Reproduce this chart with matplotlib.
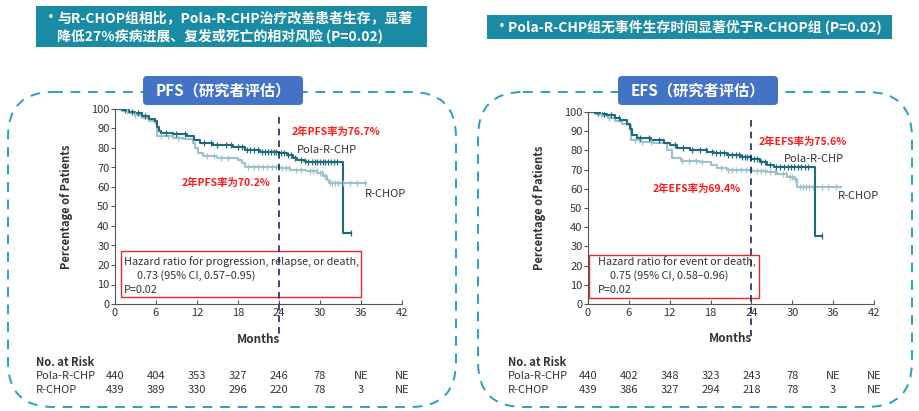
import numpy as np
import matplotlib
matplotlib.use('Agg')
import matplotlib.pyplot as plt
from matplotlib.patches import FancyBboxPatch, Rectangle
from matplotlib import transforms

plt.rcParams['font.family'] = ['Noto Sans CJK SC', 'DejaVu Sans']

# ---- data ----
months = [0, 6, 12, 18, 24, 30, 36, 42]
pct_ticks = [0, 10, 20, 30, 40, 50, 60, 70, 80, 90, 100]

# PFS, step curves (time in months, % event free)
pfs_pola_t = [0, 1, 2, 3, 4, 5, 5.8, 6.1, 6.4, 6.8, 8.5, 10.5, 11.5, 12.4, 14.4, 17.3, 19, 21.2, 24, 25.1, 26.1, 26.6, 27.6, 28, 33.4, 34.6]
pfs_pola_s = [100, 99.3, 98.6, 97.8, 96.5, 94.8, 93.7, 91, 88.5, 87.5, 87, 86, 84.3, 82.5, 81.7, 80.3, 79, 78.1, 77.4, 76.5, 74.8, 73.6, 73.1, 72.6, 36.3, 36.3]
pfs_rchop_t = [0, 1, 2, 3, 4, 5, 5.9, 6.2, 8.5, 10, 11.4, 11.7, 12.2, 12.9, 14.9, 18, 18.6, 19, 24.1, 25.6, 28, 29.6, 30.5, 31, 31.3, 36.8]
pfs_rchop_s = [100, 99, 98, 97, 95.5, 94, 93, 86, 85.3, 84.6, 82.5, 80, 77.4, 75.7, 74.8, 74, 72.3, 70.4, 69.7, 68.8, 68, 67.1, 65.8, 63.7, 62, 62]
pfs_pola_cens = [1.5, 2.5, 3.3, 4.4, 7.5, 9, 10.2, 13, 14, 15, 16.2, 17, 18, 18.6, 19.3, 19.8, 20.4, 21, 21.5, 22, 22.4, 22.8, 23.2, 23.6, 24.3, 24.7, 25.3, 25.8, 26.4, 27.2, 27.8, 28.3, 28.8, 29.2, 29.6, 30, 30.4, 30.8, 31.2, 31.6, 32, 32.5, 34.6]
pfs_rchop_cens = [1.8, 3, 6.8, 7.8, 9.2, 13.5, 14.5, 15.5, 16.5, 19.5, 20.3, 21, 21.6, 22.3, 23, 23.6, 24.5, 25, 25.5, 26.5, 27.2, 28.5, 29, 29.5, 30, 30.3, 30.8, 31.5, 31.8, 32.2, 32.6, 33.3, 34.4, 35.4, 36.6]

# EFS
efs_pola_t = [0, 1, 2, 2.8, 4, 4.75, 5.8, 6.1, 6.5, 7.2, 9.2, 11.1, 12.1, 13.1, 15, 17.5, 18.5, 20.4, 22.4, 24, 25.3, 26.3, 27.3, 33.3, 34.4]
efs_pola_s = [100, 99.3, 98.8, 98.3, 97, 95.7, 94, 91.3, 87.9, 86.2, 85.3, 83.9, 82.7, 81.5, 80.1, 79.2, 78.4, 77.5, 76.6, 75.6, 74, 72.3, 71.5, 35.5, 35.5]
efs_rchop_t = [0, 1, 2, 3, 4, 5, 5.9, 6.3, 7.7, 9.6, 11.6, 12.3, 13.6, 16.5, 18, 19, 20.4, 24.3, 26.3, 27.8, 29.2, 30.2, 30.7, 37.1]
efs_rchop_s = [100, 99, 98, 97, 95.5, 94, 93, 85.3, 84.4, 83.6, 80.1, 75.8, 74.4, 74, 72.3, 70.6, 69.6, 69.2, 68.9, 67.6, 66.2, 65, 61, 61]
efs_pola_cens = [1.4, 2.4, 3.4, 4.5, 7.6, 9, 10.4, 12.8, 14, 15.2, 16.4, 17.3, 18.2, 18.8, 19.4, 20, 20.6, 21.2, 21.7, 22.2, 22.6, 23, 23.4, 23.8, 24.4, 24.8, 25.4, 26, 26.8, 27.6, 28.2, 28.8, 29.3, 29.8, 30.3, 30.8, 31.3, 31.8, 32.3, 34.4]
efs_rchop_cens = [1.9, 3.1, 6.9, 8, 9.3, 13.8, 14.8, 15.8, 16.8, 19.6, 20.5, 21.2, 21.8, 22.5, 23.2, 23.8, 24.8, 25.4, 26, 26.8, 27.4, 28.6, 29.1, 29.6, 30, 30.4, 31.2, 31.6, 32, 32.5, 33, 34.3, 35.3, 36.4]

risk_pfs_pola = ['440', '404', '353', '327', '246', '78', 'NE', 'NE']
risk_pfs_rchop = ['439', '389', '330', '296', '220', '78', '3', 'NE']
risk_efs_pola = ['440', '402', '348', '323', '243', '78', 'NE', 'NE']
risk_efs_rchop = ['439', '386', '327', '294', '218', '78', '3', 'NE']

POLA = '#1e6b7b'
RCHOP = '#9fc1cf'
TEAL = '#1a8ba5'
BLUE = '#4472c4'
DASH = '#2a9fc0'

fig = plt.figure(figsize=(9.2, 4.11), dpi=100)
fig.patch.set_facecolor('white')

# background layer in pixel units
bg = fig.add_axes([0, 0, 1, 1])
bg.set_xlim(0, 920)
bg.set_ylim(411, 0)
bg.axis('off')

# header banners
bg.add_patch(Rectangle((36, 6), 391, 41, fc=TEAL, ec='none'))
bg.text(44, 18, '•', color='white', fontsize=10, fontweight='bold', va='center')
bg.text(57, 18, '与R-CHOP组相比，Pola-R-CHP治疗改善患者生存，显著', color='white', fontsize=10, fontweight='bold', va='center')
bg.text(57, 36, '降低27%疾病进展、复发或死亡的相对风险 (P=0.02)', color='white', fontsize=10, fontweight='bold', va='center')
bg.add_patch(Rectangle((487, 15), 405, 24, fc=TEAL, ec='none'))
bg.text(495, 27, '•', color='white', fontsize=10, fontweight='bold', va='center')
bg.text(508, 27, 'Pola-R-CHP组无事件生存时间显著优于R-CHOP组 (P=0.02)', color='white', fontsize=10, fontweight='bold', va='center')

# dashed frames + title tabs
for x0, w, tx, title in [(8, 448, 143, 'PFS（研究者评估）'), (478, 434, 618, 'EFS（研究者评估）')]:
    bg.add_patch(FancyBboxPatch((x0, 92), w, 315, boxstyle='round,pad=0,rounding_size=45',
                                fill=False, ec=DASH, lw=1.4, ls=(0, (5, 4))))
    bg.add_patch(FancyBboxPatch((tx, 76), 160, 29, boxstyle='round,pad=0,rounding_size=4',
                                fc=BLUE, ec='none'))
    bg.text(tx + 80, 90.5, title, color='white', fontsize=11, fontweight='bold', ha='center', va='center')


def step_val(t, s, x):
    i = np.searchsorted(t, x, side='right') - 1
    return np.asarray(s)[i]


def panel(rect, pola_t, pola_s, rchop_t, rchop_s, pola_c, rchop_c, risk_p, risk_r,
          label_x, hr_lines, hr_box, notes, vline):
    ax = fig.add_axes(rect)
    ax.patch.set_visible(False)
    ax.step(rchop_t, rchop_s, where='post', color=RCHOP, lw=1.5)
    ax.step(pola_t, pola_s, where='post', color=POLA, lw=1.5)
    ax.plot(rchop_c, step_val(rchop_t, rchop_s, rchop_c), ls='none', marker='|', ms=4.5, mew=0.9, color=RCHOP)
    ax.plot(pola_c, step_val(pola_t, pola_s, pola_c), ls='none', marker='|', ms=4.5, mew=0.9, color=POLA)
    ax.set_xlim(0, 42)
    ax.set_ylim(0, 100)
    ax.set_xticks(months)
    ax.set_yticks(pct_ticks)
    for sp in ['top', 'right']:
        ax.spines[sp].set_visible(False)
    for sp in ['left', 'bottom']:
        ax.spines[sp].set_color('#555555')
        ax.spines[sp].set_linewidth(0.8)
    ax.tick_params(axis='y', direction='out', length=3, width=0.8, color='#555555', labelsize=8, labelcolor='#333333', pad=1)
    ax.tick_params(axis='x', direction='in', length=3, width=0.8, color='#555555', labelsize=8, labelcolor='#333333', pad=3)
    ax.set_ylabel('Percentage of Patients', fontsize=8, fontweight='bold', color='#333333')
    ax.yaxis.set_label_coords(-0.148, 0.5)
    ax.text(0.5, -0.18, 'Months', transform=ax.transAxes, ha='center', va='center',
            fontsize=8.5, fontweight='bold', color='#333333')
    ax.plot([24, 24], vline, ls=(0, (4, 3)), color='#1c2b5a', lw=1.2, clip_on=False)

    # hazard ratio box
    (bx0, by0, bx1, by1) = hr_box
    ax.add_patch(Rectangle((bx0, by0), bx1 - bx0, by1 - by0, fill=False, ec='#e8262a', lw=1.0))
    for (hx, hy, txt) in hr_lines:
        ax.text(hx, hy, txt, fontsize=7.8, color='#333333', va='center')

    for (nx, ny, txt, col, bold) in notes:
        ax.text(nx, ny, txt, fontsize=7.5 if bold else 8, color=col,
                fontweight='bold' if bold else 'normal', va='center')

    # risk table
    tr = transforms.blended_transform_factory(ax.transData, bg.transData)
    bg.text(label_x, 362, 'No. at Risk', fontsize=8, fontweight='bold', color='#333333', va='center')
    bg.text(label_x, 376, 'Pola-R-CHP', fontsize=8, color='#333333', va='center')
    bg.text(label_x, 390, 'R-CHOP', fontsize=8, color='#333333', va='center')
    for m, a, b in zip(months, risk_p, risk_r):
        ax.text(m, 376, a, transform=tr, fontsize=8, color='#333333', ha='center', va='center', clip_on=False)
        ax.text(m, 390, b, transform=tr, fontsize=8, color='#333333', ha='center', va='center', clip_on=False)
    return ax


panel([115 / 920, 1 - 304 / 411, 287 / 920, 195 / 411],
      pfs_pola_t, pfs_pola_s, pfs_rchop_t, pfs_rchop_s, pfs_pola_cens, pfs_rchop_cens,
      risk_pfs_pola, risk_pfs_rchop, 36,
      [(1.3, 21.8, 'Hazard ratio for progression, relapse, or death,'),
       (3.2, 14.8, '0.73 (95% CI, 0.57–0.95)'),
       (1.3, 7.3, 'P=0.02')],
      (0.9, 3.6, 36.0, 27.2),
      [(25.9, 88.2, '2年PFS率为76.7%', '#ff1a1a', True),
       (9.8, 62.0, '2年PFS率为70.2%', '#ff1a1a', True),
       (26.6, 79.0, 'Pola-R-CHP', '#333333', False),
       (36.6, 56.4, 'R-CHOP', '#333333', False)],
      [96, -15.5])

panel([588 / 920, 1 - 304 / 411, 286 / 920, 192 / 411],
      efs_pola_t, efs_pola_s, efs_rchop_t, efs_rchop_s, efs_pola_cens, efs_rchop_cens,
      risk_efs_pola, risk_efs_rchop, 508,
      [(1.5, 21.9, 'Hazard ratio for event or death,'),
       (3.2, 14.6, '0.75 (95% CI, 0.58–0.96)'),
       (1.5, 7.3, 'P=0.02')],
      (0.15, 3.1, 25.1, 25.5),
      [(25.0, 84.4, '2年EFS率为75.6%', '#ff1a1a', True),
       (9.5, 59.9, '2年EFS率为69.4%', '#ff1a1a', True),
       (28.8, 75.5, 'Pola-R-CHP', '#333333', False),
       (36.7, 56.3, 'R-CHOP', '#333333', False)],
      [95.8, -16.5])

fig.savefig('out.png', dpi=100)
